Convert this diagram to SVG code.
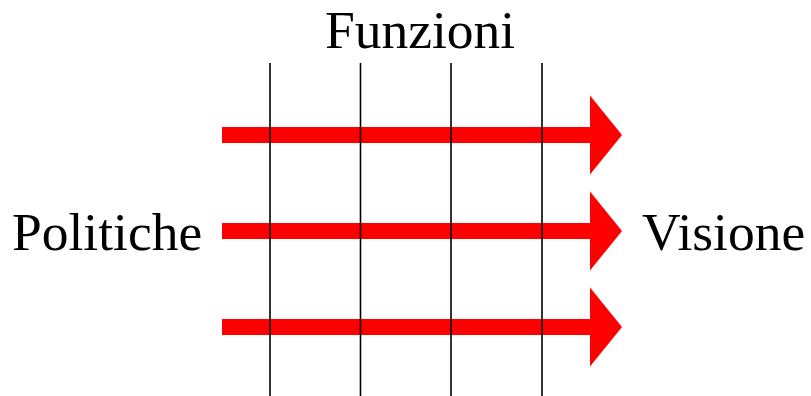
<svg xmlns="http://www.w3.org/2000/svg" width="811" height="396" viewBox="0 0 811 396">
<style>
text{font-family:"Liberation Serif","Times New Roman",serif;font-size:53.5px;fill:#000}
.v{stroke:#000;stroke-width:1.6;fill:none}
.a{fill:#ff0000;stroke:none}
</style>
<rect width="811" height="396" fill="#fff"/>
<g id="arrows">
<polygon id="arrow1" class="a" points="222,127 590,127 590,95.5 622,135 590,174.5 590,143 222,143"/>
<polygon id="arrow2" class="a" points="222,223 590,223 590,191.5 622,231 590,270.5 590,239 222,239"/>
<polygon id="arrow3" class="a" points="222,319 590,319 590,287.5 622,327 590,366.5 590,335 222,335"/>
</g>
<g id="connectors">
<line class="v" x1="270" y1="63" x2="270" y2="396"/>
<line class="v" x1="360.5" y1="63" x2="360.5" y2="396"/>
<line class="v" x1="451" y1="63" x2="451" y2="396"/>
<line class="v" x1="542" y1="63" x2="542" y2="396"/>
</g>
<g id="funzioni"><text x="420" y="47.5" text-anchor="middle">Funzioni</text></g>
<g id="politiche"><text x="12" y="250">Politiche</text></g>
<g id="visione"><text x="642" y="250">Visione</text></g>
</svg>
